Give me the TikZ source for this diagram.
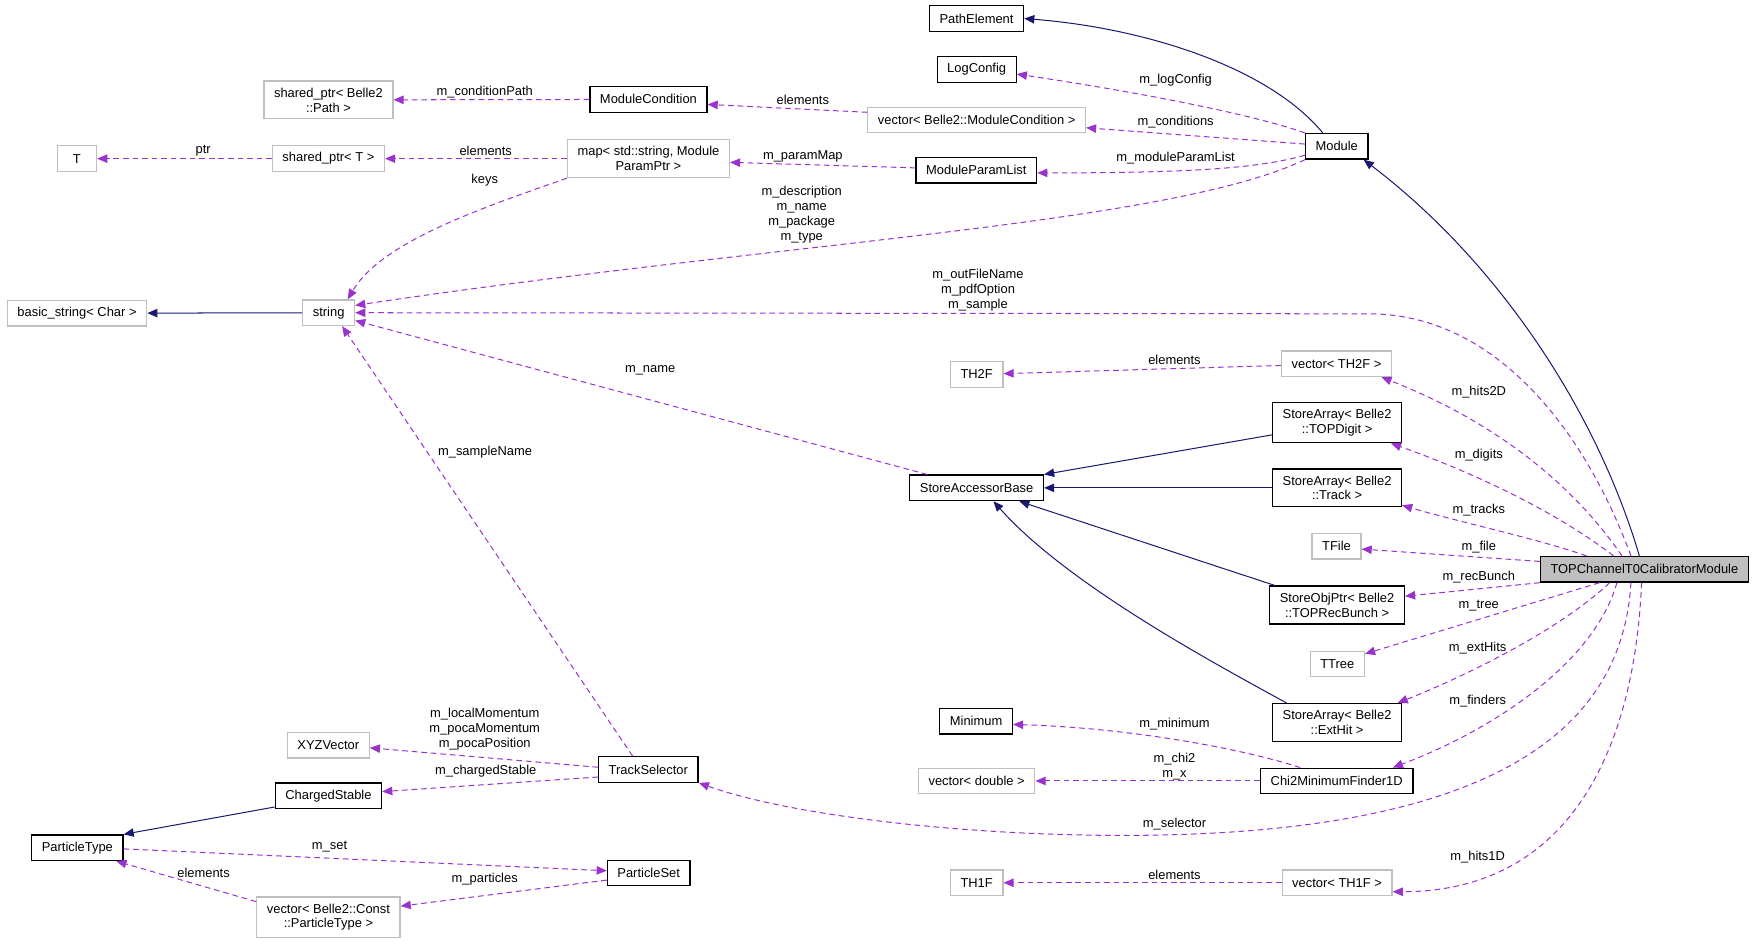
\documentclass[tikz,border=0pt]{standalone}
\usepackage{fontspec}
\setmainfont{Liberation Sans}
\usetikzlibrary{arrows.meta}
\definecolor{usecol}{HTML}{9A32CD}
\definecolor{inhcol}{HTML}{191970}
\definecolor{extcol}{HTML}{BFBFBF}
\tikzset{
  box/.style={draw=black,line width=1.1pt,fill=white,inner xsep=9pt,inner ysep=6pt,minimum height=22.8pt,align=center,font=\fontsize{11.5}{13.3}\selectfont},
  extbox/.style={box,draw=extcol},
  curbox/.style={box,fill=extcol},
  uses/.style={draw=usecol,line width=0.9pt,dash pattern=on 5pt off 3.5pt,-{Triangle[length=9pt,width=7.5pt]}},
  inherits/.style={draw=inhcol,line width=0.9pt,-{Triangle[length=9pt,width=7.5pt]}},
  lbl/.style={font=\fontsize{11.5}{13.3}\selectfont,align=center,inner sep=0pt}
}
\begin{document}
\begin{tikzpicture}[x=1pt,y=-1pt]
        \useasboundingbox (0,0) rectangle (1563,840);
        % classes
        \node[box] (pathel) at (869.7,16.5) {PathElement};
        \node[box] (logcfg) at (869.8,62) {LogConfig};
        \node[extbox] (pathptr) at (292.5,89) {shared\_ptr< Belle2\\::Path >};
        \node[box] (modcond) at (577.5,88.5) {ModuleCondition};
        \node[extbox] (condvec) at (869.8,106.8) {vector< Belle2::ModuleCondition >};
        \node[extbox,minimum width=35pt] (tcls) at (68.5,141.3) {T};
        \node[extbox] (tptr) at (292.5,141.3) {shared\_ptr< T >};
        \node[extbox] (parammap) at (577.5,141.3) {map< std::string, Module\\ParamPtr >};
        \node[box] (paramlist) at (869.5,151.5) {ModuleParamList};
        \node[box] (module) at (1190.5,130.3) {Module};
        \node[extbox] (basicstr) at (68.6,279) {basic\_string< Char >};
        \node[extbox] (string) at (292.7,278.5) {string};
        \node[extbox] (thtwof) at (869.8,333.5) {TH2F};
        \node[extbox] (hvectwo) at (1190.3,324) {vector< TH2F >};
        \node[box] (digits) at (1190.8,376.3) {StoreArray< Belle2\\::TOPDigit >};
        \node[box] (accbase) at (869.8,434.5) {StoreAccessorBase};
        \node[box] (tracks) at (1190.8,434.5) {StoreArray< Belle2\\::Track >};
        \node[extbox] (tfile) at (1190.3,486.5) {TFile};
        \node[curbox] (calib) at (1464.5,507) {TOPChannelT0CalibratorModule};
        \node[box] (recbunch) at (1190.8,538.8) {StoreObjPtr< Belle2\\::TOPRecBunch >};
        \node[extbox] (ttree) at (1191,591.3) {TTree};
        \node[box] (minimum) at (869.3,642.2) {Minimum};
        \node[box] (exthits) at (1190.8,643.5) {StoreArray< Belle2\\::ExtHit >};
        \node[extbox] (xyzvec) at (292.4,663.7) {XYZVector};
        \node[box] (tracksel) at (577.4,685.3) {TrackSelector};
        \node[extbox] (dblvec) at (869.8,695.5) {vector< double >};
        \node[box] (finder) at (1190.5,695.5) {Chi2MinimumFinder1D};
        \node[box] (charged) at (292.5,708.7) {ChargedStable};
        \node[box] (ptype) at (68.9,755) {ParticleType};
        \node[box] (pset) at (577.7,777.5) {ParticleSet};
        \node[extbox] (ptypevec) at (292.5,816.8) {vector< Belle2::Const\\::ParticleType >};
        \node[extbox] (thonef) at (869.8,786.2) {TH1F};
        \node[extbox] (hvecone) at (1190.8,786.2) {vector< TH1F >};
        % inheritance
        \draw[inherits] ([xshift=-12.5pt]module.north) .. controls (1130,60) and (1020,25) .. (pathel.east);
        \draw[inherits] ([xshift=-4.5pt]calib.north) .. controls (1420,360) and (1330,230) .. ([xshift=24pt]module.south);
        \draw[inherits] (string) -- (basicstr);
        \draw[inherits] ([yshift=-11pt]digits.west) -- (accbase.north east);
        \draw[inherits] (tracks) -- (accbase);
        \draw[inherits] ([xshift=5pt]recbunch.north west) -- ([xshift=38pt]accbase.south);
        \draw[inherits] ([xshift=13pt]exthits.north west) .. controls (1080,590) and (950,520) .. ([xshift=15pt]accbase.south);
        \draw[inherits] ([yshift=-10pt]charged.west) -- (ptype.north east);
        % members of Module
        \draw[uses] (module.north west) .. controls (1110,100) and (1000,80) .. ([yshift=-4pt]logcfg.east);
        \draw[uses] ([yshift=2pt]module.west) -- ([yshift=-7pt]condvec.east);
        \draw[uses] ([yshift=-8pt]module.west) .. controls (1120,150) and (1060,154) .. ([yshift=-2.5pt]paramlist.east);
        \draw[uses] (module.south west) .. controls (1040,200) and (700,215) .. ([yshift=6.5pt]string.east);
        \draw[uses] ([yshift=6.8pt]condvec.west) -- ([yshift=-4.5pt]modcond.east);
        \draw[uses] (modcond) -- (pathptr);
        \draw[uses] ([yshift=2pt]paramlist.west) -- ([yshift=-3.3pt]parammap.east);
        \draw[uses] (parammap) -- (tptr);
        \draw[uses] (tptr) -- (tcls);
        \draw[uses] (parammap.south west) .. controls (430,185) and (340,215) .. ([xshift=17pt]string.north);
        \draw[uses] ([xshift=-44pt]accbase.north) -- ([yshift=-7pt]string.east);
        \draw[uses] ([xshift=-14pt]tracksel.north) -- ([xshift=12pt]string.south);
        % members of TOPChannelT0CalibratorModule
        \draw[uses] ([xshift=-12pt]calib.north) .. controls (1410,380) and (1330,280) .. (1220,279.5) -- (string.east);
        \draw[uses] ([xshift=-20pt]calib.north) .. controls (1400,430) and (1330,375) .. ([xshift=40pt]hvectwo.south);
        \draw[uses] ([xshift=-27.5pt]calib.north) .. controls (1385,455) and (1310,420) .. ([xshift=48pt]digits.south);
        \draw[uses] ([xshift=-51.5pt]calib.north) .. controls (1370,480) and (1300,465) .. ([yshift=-15.5pt]tracks.east);
        \draw[uses] ([yshift=7pt]calib.west) -- ([yshift=-2.5pt]tfile.east);
        \draw[uses] (calib.south west) -- ([yshift=7.8pt]recbunch.east);
        \draw[uses] ([xshift=-40pt]calib.south) -- ([yshift=9pt]ttree.east);
        \draw[uses] ([xshift=-31pt]calib.south) .. controls (1390,560) and (1310,600) .. ([xshift=-4pt]exthits.north east);
        \draw[uses] ([xshift=-24.5pt]calib.south) .. controls (1420,590) and (1330,650) .. ([xshift=50pt]finder.north);
        \draw[uses] ([xshift=-12pt]calib.south) .. controls (1445,650) and (1330,744) .. (1000,744) .. controls (850,744) and (700,725) .. ([xshift=45pt]tracksel.south);
        \draw[uses] ([xshift=-2.5pt]calib.south) .. controls (1455,680) and (1390,794) .. ([yshift=-8pt]hvecone.east);
        \draw[uses] (hvectwo) -- (thtwof);
        \draw[uses] ([xshift=-32.5pt]finder.north) .. controls (1100,665) and (1000,648) .. ([yshift=-3pt]minimum.east);
        \draw[uses] (finder) -- (dblvec);
        \draw[uses] (hvecone) -- (thonef);
        % members of TrackSelector
        \draw[uses] ([yshift=2pt]tracksel.west) -- ([yshift=-2.3pt]xyzvec.east);
        \draw[uses] ([yshift=-6.7pt]tracksel.west) -- ([yshift=3.7pt]charged.east);
        \draw[uses] ([yshift=-1pt]ptype.east) -- ([yshift=2pt]pset.west);
        \draw[uses] ([yshift=-6.3pt]pset.west) -- ([yshift=9.8pt]ptypevec.east);
        \draw[uses] ([yshift=13.8pt]ptypevec.west) -- ([xshift=34.7pt]ptype.south);
        % edge labels
        \node[lbl] (llogcfg) at (1047,71) {m\_logConfig};
        \node[lbl] (lcond) at (1047,109) {m\_conditions};
        \node[lbl] (lplist) at (1047,141) {m\_moduleParamList};
        \node[lbl] (ldesc) at (714,191.5) {m\_description\\m\_name\\m\_package\\m\_type};
        \node[lbl] (lcondel) at (715,89) {elements};
        \node[lbl] (lcpath) at (431.7,81.6) {m\_conditionPath};
        \node[lbl] (lpmap) at (715,139) {m\_paramMap};
        \node[lbl] (lmapel) at (432.6,134) {elements};
        \node[lbl] (lptr) at (181,134) {ptr};
        \node[lbl] (lkeys) at (431.7,160.3) {keys};
        \node[lbl] (lout) at (871,258.5) {m\_outFileName\\m\_pdfOption\\m\_sample};
        \node[lbl] (lname) at (579,330) {m\_name};
        \node[lbl] (lsname) at (432,403) {m\_sampleName};
        \node[lbl] (ltwoel) at (1046,320.6) {elements};
        \node[lbl] (lhtwo) at (1317,349) {m\_hits2D};
        \node[lbl] (ldigits) at (1317,405) {m\_digits};
        \node[lbl] (ltracks) at (1317,454) {m\_tracks};
        \node[lbl] (lfile) at (1317,487) {m\_file};
        \node[lbl] (lbunch) at (1317,514) {m\_recBunch};
        \node[lbl] (ltree) at (1317,539) {m\_tree};
        \node[lbl] (lext) at (1316,577) {m\_extHits};
        \node[lbl] (lfind) at (1316,624) {m\_finders};
        \node[lbl] (lsel) at (1046,734) {m\_selector};
        \node[lbl] (lhone) at (1316,763) {m\_hits1D};
        \node[lbl] (lmin) at (1046,645) {m\_minimum};
        \node[lbl] (lchi) at (1046,683) {m\_chi2\\m\_x};
        \node[lbl] (loneel) at (1046,779) {elements};
        \node[lbl] (lmom) at (431.7,649) {m\_localMomentum\\m\_pocaMomentum\\m\_pocaPosition};
        \node[lbl] (lcharged) at (432.6,687) {m\_chargedStable};
        \node[lbl] (lset) at (293.5,754) {m\_set};
        \node[lbl] (lpart) at (431.7,783) {m\_particles};
        \node[lbl] (lptel) at (181.3,777) {elements};
\end{tikzpicture}
\end{document}
